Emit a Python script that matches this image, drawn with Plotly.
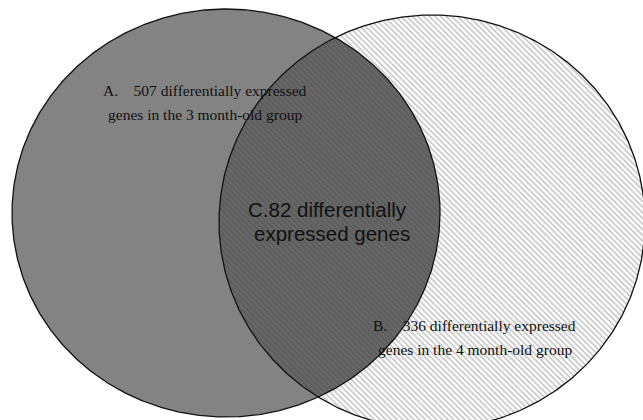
import numpy as np
import plotly.graph_objects as go

# Set sizes (labels) and ellipse geometry (in a 643 x 420 pixel frame)
set_names = ["A", "B", "C"]
set_counts = [507, 336, 82]
label_A = ["A.\u2003507 differentially expressed", "genes in the 3 month-old group"]
label_B = ["B.\u2003336 differentially expressed", "genes in the 4 month-old group"]
label_C = ["C.82 differentially", "expressed genes"]

W, H = 643, 420
left_c, left_r = (226.0, 213.0), (214.0, 204.0)
right_c, right_r = (432.0, 222.0), (213.0, 207.0)

t = np.linspace(0, 2 * np.pi, 720)


def ellipse(c, r):
    return c[0] + r[0] * np.cos(t), c[1] + r[1] * np.sin(t)


lx, ly = ellipse(left_c, left_r)
rx, ry = ellipse(right_c, right_r)


def inside(x, y, c, r):
    return ((x - c[0]) / r[0]) ** 2 + ((y - c[1]) / r[1]) ** 2 <= 1.0


m1 = inside(lx, ly, right_c, right_r)
m2 = inside(rx, ry, left_c, left_r)
px = np.concatenate([lx[m1], rx[m2]])
py = np.concatenate([ly[m1], ry[m2]])
cx0, cy0 = px.mean(), py.mean()
order = np.argsort(np.arctan2(py - cy0, px - cx0))
ix, iy = np.append(px[order], px[order][0]), np.append(py[order], py[order][0])

fig = go.Figure()
fig.add_trace(go.Scatter(x=lx, y=ly, mode="lines", fill="toself",
                         fillcolor="#838383", line=dict(width=0), hoverinfo="skip"))
fig.add_trace(go.Scatter(x=rx, y=ry, mode="lines", fill="toself",
                         fillcolor="rgba(0,0,0,0)",
                         fillpattern=dict(shape="\\", size=4, solidity=0.4,
                                          fgcolor="#8c8c8c", bgcolor="rgba(255,255,255,1)"),
                         line=dict(width=0), hoverinfo="skip"))
fig.add_trace(go.Scatter(x=ix, y=iy, mode="lines", fill="toself",
                         fillcolor="#626262",
                         fillpattern=dict(shape="\\", size=4, solidity=0.4,
                                          fgcolor="#4c4c4c", bgcolor="#686868"),
                         line=dict(width=0), hoverinfo="skip"))
fig.add_trace(go.Scatter(x=lx, y=ly, mode="lines", line=dict(color="#111", width=1.3),
                         hoverinfo="skip"))
fig.add_trace(go.Scatter(x=rx, y=ry, mode="lines", line=dict(color="#111", width=1.3),
                         hoverinfo="skip"))

serif = dict(family="Liberation Serif, Times New Roman, serif", size=15.5, color="#111")
sans = dict(family="Liberation Sans, Arial, sans-serif", size=20.5, color="#111")

anns = []
for i, s in enumerate(label_A):
    anns.append(dict(x=204.5, y=90 + 24 * i, text=s, font=serif))
for i, s in enumerate(label_B):
    anns.append(dict(x=474.5, y=325 + 24.5 * i, text=s, font=serif))
for i, (s, xc) in enumerate(zip(label_C, [327, 332])):
    anns.append(dict(x=xc, y=209 + 24 * i, text=s, font=sans))
for a in anns:
    a.update(xref="x", yref="y", showarrow=False, xanchor="center", yanchor="middle")

fig.update_layout(
    width=W, height=H, margin=dict(l=0, r=0, t=0, b=0),
    paper_bgcolor="white", plot_bgcolor="white", showlegend=False,
    xaxis=dict(range=[0, W], visible=False, fixedrange=True),
    yaxis=dict(range=[H, 0], visible=False, fixedrange=True),
    annotations=anns,
)
fig.write_html("out.html", config=dict(displayModeBar=False),
               post_script="document.body.style.margin='0';document.body.style.overflow='hidden';")
